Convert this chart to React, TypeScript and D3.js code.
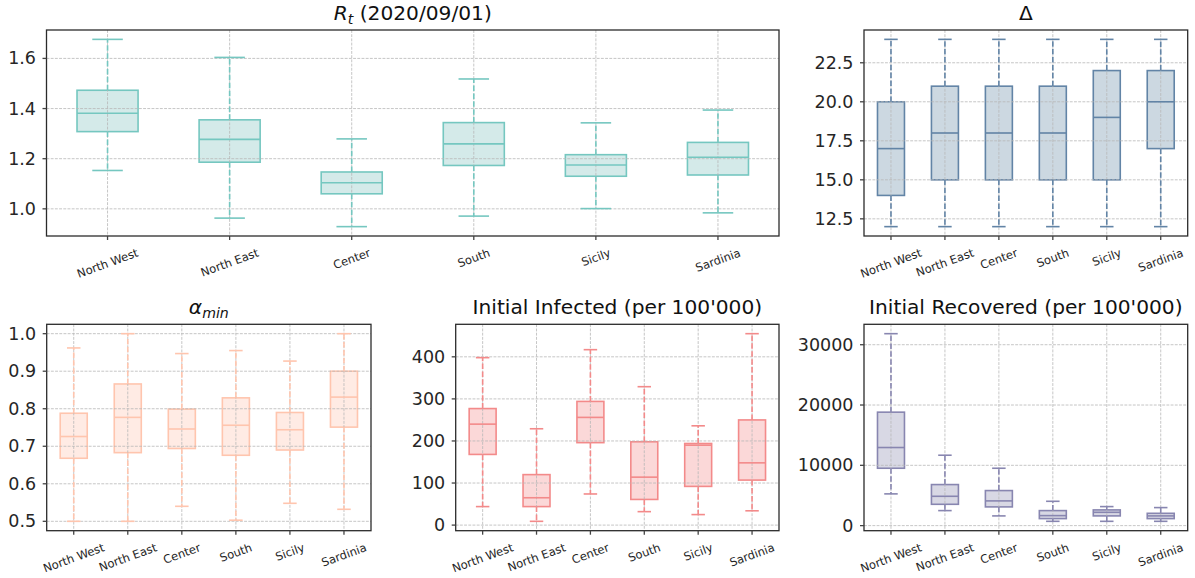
import React, { useEffect, useRef } from 'react';
import * as d3 from 'd3';

const regions = ['North West', 'North East', 'Center', 'South', 'Sicily', 'Sardinia'];

// five-number summaries per region: [lowWhisker, q1, median, q3, highWhisker]
const rtStats = [
  [1.153, 1.308, 1.381, 1.473, 1.676],
  [0.963, 1.186, 1.277, 1.355, 1.604],
  [0.929, 1.06, 1.104, 1.147, 1.279],
  [0.971, 1.173, 1.259, 1.344, 1.518],
  [1.001, 1.13, 1.175, 1.216, 1.343],
  [0.984, 1.135, 1.206, 1.265, 1.394],
];
const deltaStats = [
  [12, 14, 17, 20, 24],
  [12, 15, 18, 21, 24],
  [12, 15, 18, 21, 24],
  [12, 15, 18, 21, 24],
  [12, 15, 19, 22, 24],
  [12, 17, 20, 22, 24],
];
const alphaStats = [
  [0.5, 0.668, 0.726, 0.788, 0.962],
  [0.5, 0.683, 0.777, 0.866, 1.0],
  [0.54, 0.694, 0.746, 0.799, 0.947],
  [0.503, 0.676, 0.756, 0.829, 0.955],
  [0.548, 0.69, 0.744, 0.79, 0.927],
  [0.532, 0.751, 0.831, 0.9, 1.0],
];
const infectedStats = [
  [44, 168, 240, 277, 398],
  [9, 44, 65, 120, 229],
  [74, 196, 256, 294, 417],
  [32, 61, 114, 198, 329],
  [25, 92, 190, 194, 236],
  [34, 107, 148, 250, 455],
];
const recoveredStats = [
  [5264, 9515, 12952, 18815, 31830],
  [2491, 3537, 4865, 6808, 11675],
  [1611, 3105, 4101, 5812, 9515],
  [714, 1162, 1660, 2491, 4035],
  [714, 1611, 2209, 2607, 3155],
  [714, 1162, 1611, 2043, 2989],
];

const rtTicks = [1.0, 1.2, 1.4, 1.6];
const deltaTicks = [12.5, 15.0, 17.5, 20.0, 22.5];
const alphaTicks = [0.5, 0.6, 0.7, 0.8, 0.9, 1.0];
const infectedTicks = [0, 100, 200, 300, 400];
const recoveredTicks = [0, 10000, 20000, 30000];

type Panel = {
  key: string;
  stats: number[][];
  ticks: number[];
  fmt: (v: number) => string;
  stroke: string;
  fill: string;
  x: number; y: number; w: number; h: number;
  title: (g: any) => void;
};

const FONT = 'DejaVu Sans, sans-serif';

const panels: Panel[] = [
  {
    key: 'rt', stats: rtStats, ticks: rtTicks, fmt: d3.format('.1f'),
    stroke: '#75c7c0', fill: '#d4eae9',
    x: 46.5, y: 30, w: 732.5, h: 206,
    title: (t) => {
      t.append('tspan').attr('font-style', 'italic').text('R');
      t.append('tspan').attr('font-style', 'italic').attr('font-size', '70%').attr('dy', 4).text('t');
      t.append('tspan').attr('dy', -4).text(' (2020/09/01)');
    },
  },
  {
    key: 'delta', stats: deltaStats, ticks: deltaTicks, fmt: d3.format('.1f'),
    stroke: '#6284a6', fill: '#ccd8e1',
    x: 864, y: 30, w: 323.7, h: 206,
    title: (t) => { t.text('Δ'); },
  },
  {
    key: 'alpha', stats: alphaStats, ticks: alphaTicks, fmt: d3.format('.1f'),
    stroke: '#ffc5ae', fill: '#ffebe4',
    x: 46.7, y: 324.3, w: 324.3, h: 206.4,
    title: (t) => {
      t.append('tspan').attr('font-style', 'italic').text('α');
      t.append('tspan').attr('font-style', 'italic').attr('font-size', '70%').attr('dy', 4).text('min');
    },
  },
  {
    key: 'inf', stats: infectedStats, ticks: infectedTicks, fmt: d3.format('d'),
    stroke: '#f38a8a', fill: '#fbd8d8',
    x: 455.7, y: 324.3, w: 323.3, h: 206.4,
    title: (t) => { t.text("Initial Infected (per 100'000)"); },
  },
  {
    key: 'rec', stats: recoveredStats, ticks: recoveredTicks, fmt: d3.format('d'),
    stroke: '#8886b0', fill: '#d8d8e4',
    x: 864, y: 324.3, w: 323.7, h: 206.4,
    title: (t) => { t.text("Initial Recovered (per 100'000)"); },
  },
];

function drawPanel(svg: any, p: Panel) {
  const g = svg.append('g').attr('transform', `translate(${p.x},${p.y})`);
  const lo = d3.min(p.stats, (s) => s[0]) as number;
  const hi = d3.max(p.stats, (s) => s[4]) as number;
  const pad = (hi - lo) * 0.05;
  const y = d3.scaleLinear().domain([lo - pad, hi + pad]).range([p.h, 0]);
  const x = d3.scaleBand<string>().domain(regions).range([0, p.w]).padding(0);
  const bw = x.bandwidth();
  const cx = (r: string) => (x(r) as number) + bw / 2;
  const boxW = bw * 0.5;
  const capW = bw * 0.25;

  // box patches
  regions.forEach((r, i) => {
    const s = p.stats[i];
    g.append('rect')
      .attr('x', cx(r) - boxW / 2).attr('y', y(s[3]))
      .attr('width', boxW).attr('height', y(s[1]) - y(s[3]))
      .attr('fill', p.fill).attr('stroke', p.stroke).attr('stroke-width', 1.6);
  });

  // grid
  const gridColor = '#b8b8b8';
  p.ticks.forEach((t) => {
    g.append('line').attr('x1', 0).attr('x2', p.w).attr('y1', y(t)).attr('y2', y(t))
      .attr('stroke', gridColor).attr('stroke-width', 0.8).attr('stroke-dasharray', '2.9,1.3');
  });
  regions.forEach((r) => {
    g.append('line').attr('x1', cx(r)).attr('x2', cx(r)).attr('y1', 0).attr('y2', p.h)
      .attr('stroke', gridColor).attr('stroke-width', 0.8).attr('stroke-dasharray', '2.9,1.3');
  });

  // whiskers, caps, medians
  regions.forEach((r, i) => {
    const s = p.stats[i];
    const c = cx(r);
    g.append('line').attr('x1', c).attr('x2', c).attr('y1', y(s[3])).attr('y2', y(s[4]))
      .attr('stroke', p.stroke).attr('stroke-width', 1.6).attr('stroke-dasharray', '5.5,2.4');
    g.append('line').attr('x1', c).attr('x2', c).attr('y1', y(s[1])).attr('y2', y(s[0]))
      .attr('stroke', p.stroke).attr('stroke-width', 1.6).attr('stroke-dasharray', '5.5,2.4');
    [s[0], s[4]].forEach((v) => {
      g.append('line').attr('x1', c - capW / 2).attr('x2', c + capW / 2).attr('y1', y(v)).attr('y2', y(v))
        .attr('stroke', p.stroke).attr('stroke-width', 1.6);
    });
    g.append('line').attr('x1', c - boxW / 2).attr('x2', c + boxW / 2).attr('y1', y(s[2])).attr('y2', y(s[2]))
      .attr('stroke', p.stroke).attr('stroke-width', 1.6);
  });

  // spines
  g.append('rect').attr('x', 0).attr('y', 0).attr('width', p.w).attr('height', p.h)
    .attr('fill', 'none').attr('stroke', '#2b2b2b').attr('stroke-width', 1.3);

  // y ticks
  p.ticks.forEach((t) => {
    g.append('line').attr('x1', -4).attr('x2', 0).attr('y1', y(t)).attr('y2', y(t))
      .attr('stroke', '#444').attr('stroke-width', 1.3);
    g.append('text').attr('x', -10.5).attr('y', y(t)).attr('text-anchor', 'end')
      .attr('dominant-baseline', 'central').attr('font-family', FONT).attr('font-size', 17.5)
      .attr('fill', '#262626').text(p.fmt(t));
  });

  // x ticks + rotated labels
  const fs = 11.5;
  const ang = 20;
  const rad = (ang * Math.PI) / 180;
  regions.forEach((r) => {
    const c = cx(r);
    g.append('line').attr('x1', c).attr('x2', c).attr('y1', p.h).attr('y2', p.h + 4)
      .attr('stroke', '#444').attr('stroke-width', 1.3);
    const t = g.append('text').attr('text-anchor', 'middle').attr('dominant-baseline', 'central')
      .attr('font-family', FONT).attr('font-size', fs).attr('fill', '#262626').text(r);
    const L = (t.node() as SVGTextElement).getComputedTextLength();
    const hh = fs * 1.15;
    const half = (L * Math.sin(rad) + hh * Math.cos(rad)) / 2;
    t.attr('transform', `translate(${c},${p.h + 10 + half}) rotate(${-ang})`);
  });

  // title
  const tt = g.append('text').attr('x', p.w / 2).attr('y', -10).attr('text-anchor', 'middle')
    .attr('font-family', FONT).attr('font-size', 20.2).attr('fill', '#111');
  p.title(tt);
}

export default function App() {
  const ref = useRef<SVGSVGElement>(null);
  useEffect(() => {
    const svg = d3.select(ref.current);
    svg.selectAll('*').remove();
    svg.append('rect').attr('width', 1195).attr('height', 578).attr('fill', '#fff');
    panels.forEach((p) => drawPanel(svg, p));
  }, []);
  return (
    <svg ref={ref} width={1195} height={578}
      style={{ position: 'absolute', left: 0, top: 0, display: 'block' }} />
  );
}
